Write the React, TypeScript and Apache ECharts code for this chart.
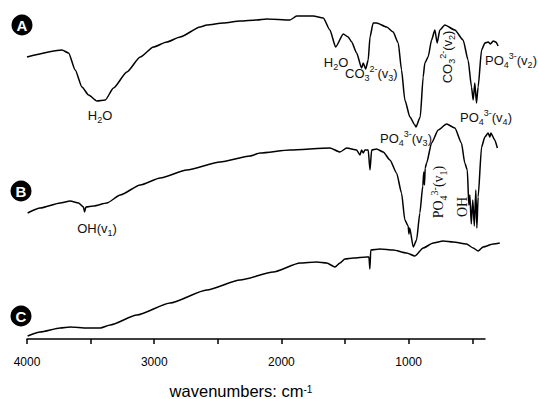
import React, { useEffect, useRef } from "react";
import * as echarts from "echarts";

// Wavenumbers (cm^-1) and relative transmittance (arbitrary units, stacked) for the three spectra
const waveA = [4000,3725,3673,3621,3568,3516,3450,3385,3320,3215,3110,3006,2901,2796,2639,2587,2456,2325,2194,2116,1933,1880,1750,1671,1619,1574,1514,1475,1448,1409,1370,1357,1338,1318,1304,1279,1252,1173,1122,1082,1056,1030,990,951,943,909,886,873,847,820,794,776,755,716,637,572,533,506,493,480,467,454,427,401,375,357,336,315,297];
const transA = [282,289,286,269,252,244,238,239,251,267,282,292,297,302,312,314,316,318,319,320,319,323,323,321,309,292,305,302,297,286,271,276,270,279,302,316,316,312,307,296,269,239,222,214,212,222,262,276,282,299,309,296,309,314,309,299,279,252,239,256,236,252,289,296,297,295,298,297,293];

const waveB = [3995,3896,3739,3660,3595,3556,3548,3537,3477,3372,3267,3110,2953,2744,2482,2247,2168,1933,1619,1540,1487,1409,1383,1370,1357,1344,1318,1304,1291,1252,1200,1147,1095,1056,1030,1004,998,992,964,938,912,889,881,876,870,859,820,768,702,637,585,559,539,527,519,508,496,484,472,464,454,427,401,375,362,354,323,303];
const transB = [126,131,136,138,136,132,127,132,133,136,144,154,161,169,177,183,186,189,191,187,191,189,184,189,186,189,189,169,189,190,187,179,166,146,119,113,105,111,92,99,126,153,167,154,171,176,196,209,215,211,196,176,169,134,144,115,139,113,149,111,142,192,202,206,202,206,199,191];

const waveC = [3995,3896,3739,3660,3529,3424,3346,3136,2875,2587,2325,2064,1854,1723,1644,1579,1540,1501,1435,1330,1312,1305,1298,1226,1122,1016,951,886,807,729,650,545,493,454,415,336,284];
const transC = [3,7,11,12,11,11,14,24,36,49,59,67,76,77,76,72,76,80,81,82,82,70,89,90,89,86,83,91,96,98,97,95,91,88,92,95,96];

const tickValues = [500,1000,1500,2000,2500,3000,3500,4000];
const labelValues = [1000,2000,3000,4000];
const panelLetters = ["A", "B", "C"];

// displayed axis range and the (slightly wider) range covered by the recorded data
const AXIS_MIN = 400;
const AXIS_MAX = 4000;
const DATA_MIN = 280;

const SANS = "'Liberation Sans', Arial, Helvetica, sans-serif";
const SERIF = "'Liberation Serif', 'Times New Roman', serif";

const pair = (w: number[], t: number[]) => w.map((x, i) => [x, t[i]]);

function richStyles(family: string, size: number) {
  return {
    n: { fontSize: size, fontFamily: family, fill: "#111", lineHeight: size + 5 },
    b: { fontSize: size - 4, fontFamily: family, fill: "#111", verticalAlign: "bottom" },
    p: { fontSize: size - 4, fontFamily: family, fill: "#111", verticalAlign: "top" },
  };
}

function label(text: string, x: number, y: number, opts: any = {}) {
  const family = opts.serif ? SERIF : SANS;
  const size = opts.size || 13;
  return {
    type: "text",
    x,
    y,
    rotation: opts.rotate ? Math.PI / 2 : 0,
    silent: true,
    style: {
      text,
      rich: richStyles(family, size),
      align: opts.align || "left",
      verticalAlign: "middle",
    },
  };
}

function badge(letter: string, cx: number, cy: number) {
  return {
    type: "group",
    children: [
      { type: "circle", shape: { cx, cy, r: 10.5 }, style: { fill: "#000" } },
      {
        type: "text",
        x: cx,
        y: cy + 0.5,
        style: {
          text: letter,
          fill: "#fff",
          font: `bold 15px ${SANS}`,
          align: "center",
          verticalAlign: "middle",
        },
      },
    ],
  };
}

const hiddenAxis = {
  show: false,
  axisLine: { show: false },
  axisTick: { show: false },
  axisLabel: { show: false },
  splitLine: { show: false },
};

export default function App() {
  const ref = useRef<HTMLDivElement>(null);
  useEffect(() => {
    if (!ref.current) return;
    const chart = echarts.init(ref.current, null, { renderer: "svg" });
    const W = 538;
    const left = 27;
    const axisRight = 53;
    const axisWidth = W - left - axisRight;
    const k = axisWidth / (AXIS_MAX - AXIS_MIN);
    const dataRight = W - left - (AXIS_MAX - DATA_MIN) * k;

    const lineSeries = (name: string, data: number[][]) => ({
      name,
      type: "line",
      xAxisIndex: 0,
      yAxisIndex: 0,
      data,
      symbol: "none",
      showSymbol: false,
      smooth: 0.2,
      smoothMonotone: "x",
      lineStyle: { color: "#000", width: 1.5 },
    });
    chart.setOption({
      animation: false,
      grid: [
        { left, right: dataRight, top: 0, bottom: 60, containLabel: false, outerBoundsMode: "none" },
        { left, right: axisRight, top: 0, bottom: 60, containLabel: false, outerBoundsMode: "none" },
      ],
      xAxis: [
        {
          ...hiddenAxis,
          gridIndex: 0,
          type: "value",
          min: DATA_MIN,
          max: AXIS_MAX,
          inverse: true,
        },
        {
          gridIndex: 1,
          type: "value",
          min: AXIS_MIN,
          max: AXIS_MAX,
          inverse: true,
          axisLine: { show: true, onZero: false, lineStyle: { color: "#000", width: 1.5 } },
          axisTick: { show: true, length: 5, lineStyle: { color: "#000", width: 1.5 }, customValues: tickValues },
          axisLabel: {
            customValues: labelValues,
            fontSize: 12,
            color: "#000",
            margin: 17,
            fontFamily: SANS,
            formatter: (v: number) => String(v),
          },
          splitLine: { show: false },
          name: "{m|wavenumbers: cm}{s|-1}",
          nameLocation: "middle",
          nameGap: 45,
          nameTextStyle: {
            padding: [0, 30, 0, 0],
            rich: {
              m: { fontSize: 16.5, fontFamily: SANS, color: "#000", lineHeight: 14 },
              s: { fontSize: 10, fontFamily: SANS, color: "#000", verticalAlign: "top", lineHeight: 8 },
            },
          },
        },
      ],
      yAxis: [
        { ...hiddenAxis, gridIndex: 0, type: "value", min: 0, max: 339 },
        { ...hiddenAxis, gridIndex: 1, type: "value", min: 0, max: 339 },
      ],
      series: [
        lineSeries("A", pair(waveA, transA)),
        lineSeries("B", pair(waveB, transB)),
        lineSeries("C", pair(waveC, transC)),
      ],
      graphic: [
        badge(panelLetters[0], 22, 25),
        badge(panelLetters[1], 21, 191),
        badge(panelLetters[2], 21, 316),
        label("{n|H}{b|2}{n|O}", 100, 115, { align: "center" }),
        label("{n|H}{b|2}{n|O}", 336, 62, { align: "center" }),
        label("{n|CO}{b|3}{p|2-}{n|(v}{b|3}{n|)}", 345, 73),
        label("{n|PO}{b|4}{p|3-}{n|(v}{b|3}{n|)}", 380, 138),
        label("{n|CO}{b|3}{p|2-}{n|(v}{b|2}{n|)}", 447, 57, { align: "center", rotate: true }),
        label("{n|PO}{b|4}{p|3-}{n|(v}{b|2}{n|)}", 485, 60),
        label("{n|PO}{b|4}{p|3-}{n|(v}{b|4}{n|)}", 460, 117),
        label("{n|OH(v}{b|1}{n|)}", 97, 228, { align: "center" }),
        label("{n|PO}{b|4}{p|3-}{n|(v}{b|1}{n|)}", 438.5, 192, { align: "center", rotate: true, serif: true, size: 14 }),
        label("{n|OH}", 462.5, 207, { align: "center", rotate: true, serif: true, size: 14 }),
      ],
    });
    return () => chart.dispose();
  }, []);
  return (
    <div
      ref={ref}
      style={{ position: "fixed", left: 0, top: 0, width: 538, height: 399, background: "#fff" }}
    />
  );
}
